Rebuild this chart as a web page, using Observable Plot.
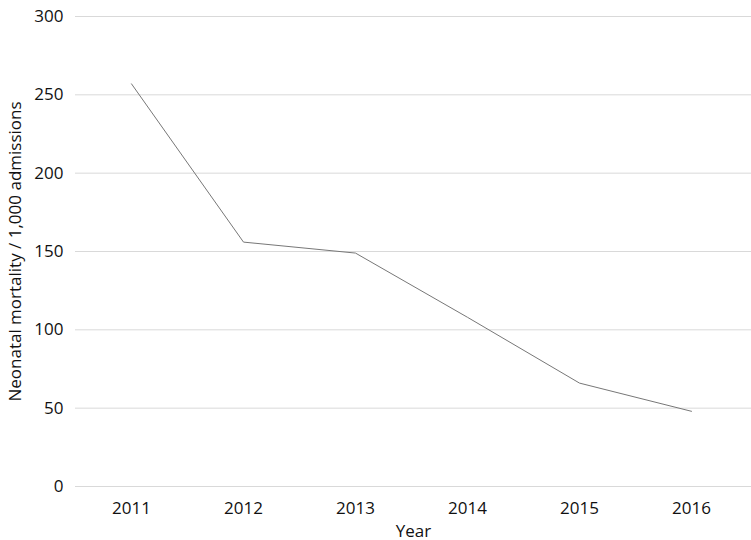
<!DOCTYPE html>
<html>
<head>
<meta charset="utf-8">
<script src="https://cdn.jsdelivr.net/npm/d3@7"></script>
<script src="https://cdn.jsdelivr.net/npm/@observablehq/plot@0.6"></script>
<style>
  html, body { margin: 0; padding: 0; background: #fff; }
  #chart svg { display: block; }
</style>
</head>
<body>
<div id="chart"></div>
<script>
const years = [2011, 2012, 2013, 2014, 2015, 2016];
const mortality = [257, 156, 149, 108, 66, 48];
const yTicks = [0, 50, 100, 150, 200, 250, 300];

const data = years.map((y, i) => ({year: y, value: mortality[i]}));

const chart = Plot.plot({
  width: 751,
  height: 540,
  marginLeft: 75,
  marginRight: 0,
  marginTop: 16,
  marginBottom: 54,
  style: {fontFamily: "'Open Sans', sans-serif", fontSize: "17px", color: "#111", background: "#fff"},
  x: {type: "point", domain: years, padding: 0.5, insetRight: 4},
  y: {domain: [0, 300]},
  marks: [
    Plot.gridY(yTicks, {stroke: "#d9d9d9", strokeOpacity: 1, strokeWidth: 1}),
    Plot.axisY({ticks: yTicks, tickSize: 0, tickPadding: 12, fontSize: 17, label: null}),
    Plot.axisY({ticks: [], tickSize: 0, label: "Neonatal mortality / 1,000 admissions", labelAnchor: "center", labelArrow: "none", labelOffset: 67, fontSize: 17}),
    Plot.axisX({tickSize: 0, tickPadding: 15, tickFormat: d => String(d), fontSize: 17, label: null}),
    Plot.axisX({ticks: [], tickSize: 0, label: "Year", labelAnchor: "center", labelArrow: "none", labelOffset: 50, fontSize: 17}),
    Plot.line(data, {x: "year", y: "value", stroke: "#777", strokeWidth: 1})
  ]
});
document.getElementById("chart").appendChild(chart);
</script>
</body>
</html>
